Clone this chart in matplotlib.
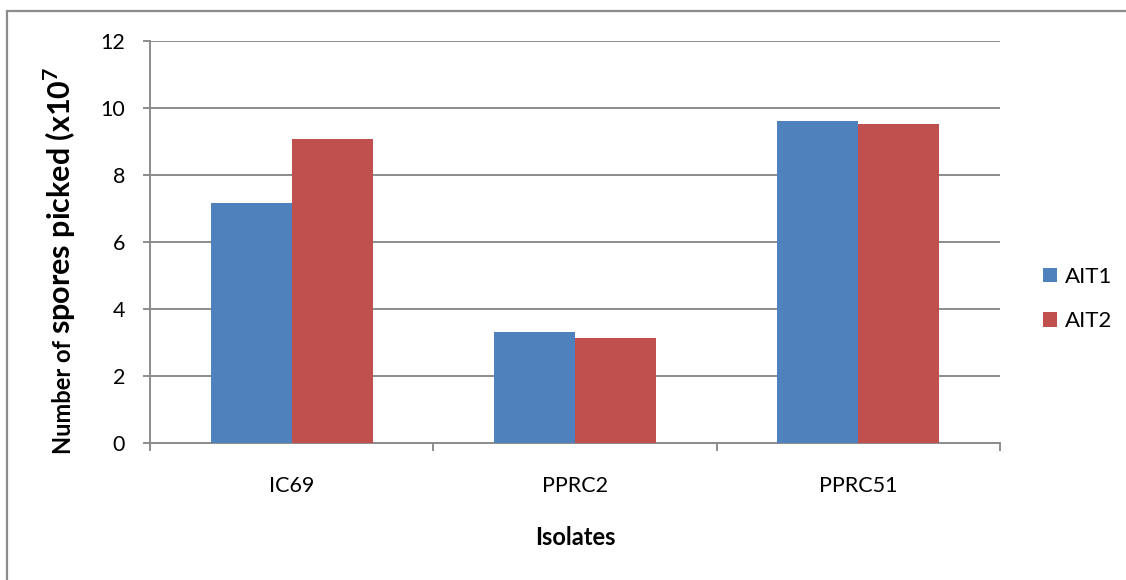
import matplotlib
matplotlib.use("Agg")
import matplotlib.pyplot as plt
import numpy as np
from matplotlib.patches import Rectangle

categories = ["IC69", "PPRC2", "PPRC51"]
ait1 = [7.16, 3.32, 9.60]
ait2 = [9.07, 3.14, 9.53]
series_names = ["AIT1", "AIT2"]
yticks = [0, 2, 4, 6, 8, 10, 12]

plt.rcParams['font.family'] = ['Lato', 'DejaVu Sans']
plt.rcParams['mathtext.fontset'] = 'custom'
plt.rcParams['mathtext.rm'] = 'Lato'
plt.rcParams['mathtext.bf'] = 'Lato:bold'

W, H = 1126, 580
PT = 72 / 100  # points per pixel
fig = plt.figure(figsize=(W/100, H/100), dpi=100)
# outer chart frame (right and bottom run off the picture)
fig.patches.append(Rectangle((7/W, -0.2), 1.3, 1.2 - 11/H, transform=fig.transFigure,
                             fill=False, edgecolor="#8c8c8c", linewidth=1.6))
ax = fig.add_axes([150/W, 1-443/H, 850/W, 402/H])

x = np.arange(len(categories))
bw = 0.2857
c1, c2 = "#4F81BD", "#C0504D"
ax.bar(x - bw/2, ait1, width=bw, color=c1, label=series_names[0], zorder=3)
ax.bar(x + bw/2, ait2, width=bw, color=c2, label=series_names[1], zorder=3)

ax.set_xlim(-0.5, 2.5)
ax.set_ylim(0, 12)
ax.set_yticks(yticks)
ax.yaxis.grid(True, color="#8c8c8c", linewidth=1.4, zorder=0)
ax.set_axisbelow(True)
for s in ["top", "right"]:
    ax.spines[s].set_visible(False)
for s in ["left", "bottom"]:
    ax.spines[s].set_color("#8c8c8c")
    ax.spines[s].set_linewidth(1.4)

ax.set_xticks(x)
ax.set_xticklabels(categories, fontsize=15.5)
ax.tick_params(axis="x", length=0, pad=33*PT)
ax.set_xticks([-0.5, 0.5, 1.5, 2.5], minor=True)
ax.tick_params(axis="x", which="minor", length=8*PT, color="#8c8c8c", width=1.4)
ax.tick_params(axis="y", length=7*PT, color="#8c8c8c", width=1.4, labelsize=15.5, pad=18*PT)

ax.set_xlabel("Isolates", fontsize=17, fontweight="bold", labelpad=30*PT)

leg = ax.legend(loc="center left", bbox_to_anchor=((1043-150)/850, (443-299)/402),
                frameon=False, fontsize=16, handlelength=0.62, handleheight=0.62,
                labelspacing=1.1, handletextpad=0.35, borderpad=0, borderaxespad=0)

# y-axis title in two sizes, fitted to the lengths in the reference
fig.canvas.draw()
r = fig.canvas.get_renderer()
bx, by = 71, 454
t1 = fig.text(bx/W, 1-by/H, "Number of ", rotation=90, rotation_mode="anchor",
              ha="left", va="baseline", fontsize=10, fontweight="bold")
h1 = t1.get_window_extent(r).height
t1.set_fontsize(10 * 120 / h1)
h1 = t1.get_window_extent(r).height
t2 = fig.text(bx/W, 1-(by-h1)/H, r"spores picked (x10$^{\mathbf{7}}$", rotation=90,
              rotation_mode="anchor", ha="left", va="baseline", fontsize=10, fontweight="bold")
h2 = t2.get_window_extent(r).height
t2.set_fontsize(10 * 270 / h2)

fig.savefig("out.png", dpi=100)
